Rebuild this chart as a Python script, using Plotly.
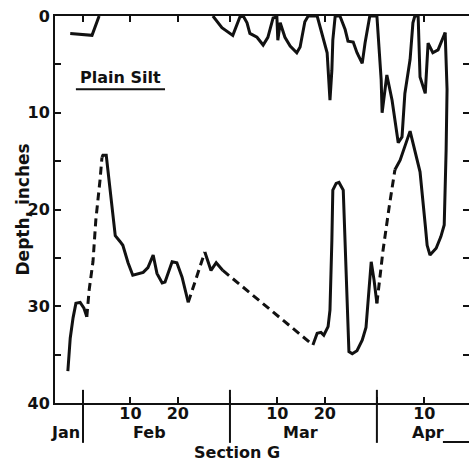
import plotly.graph_objects as go

# ---------------- data ----------------
# x values are day numbers on the chart's calendar scale (each month drawn 31 days wide,
# Jan 31 = 31, end of Feb = 62, end of Mar = 93); y values are depth in inches.

# Lower curve: depth of frost penetration
frost_day = [27.8, 28.3, 28.9, 29.5, 30.4, 31.2, 31.8, 32.3, 33.1, 33.7,
             34.6, 35.0, 35.2, 35.9, 36.7, 37.8, 38.8, 39.4, 40.5, 41.5,
             43.7, 44.7, 45.8, 46.6, 47.7, 48.3, 49.8, 50.8, 51.9, 53.2,
             54.2, 55.7, 56.7, 58.0, 59.1, 60.5, 79.5, 80.4, 81.2, 81.8,
             82.7, 83.1, 83.5, 83.7, 84.4, 85.0, 85.9, 86.3, 86.7, 87.1,
             87.8, 88.8, 89.9, 90.7, 91.8, 92.4, 93.0, 94.3, 95.6, 96.8,
             97.9, 100.0, 102.1, 103.2, 103.6, 104.2, 105.5, 106.5, 107.2, 107.6,
             107.8, 107.4]
frost_depth = [36.7, 33.3, 31.2, 29.7, 29.6, 30.2, 31.1, 28.3, 25.4, 21.1,
               16.9, 14.6, 14.4, 14.4, 18.0, 22.7, 23.3, 23.7, 25.5, 26.8,
               26.5, 26.0, 24.7, 26.6, 27.6, 27.5, 25.4, 25.5, 27.0, 29.6,
               28.1, 25.9, 24.4, 26.3, 25.5, 26.3, 34.0, 32.8, 32.7, 33.0,
               32.1, 30.4, 23.2, 18.0, 17.3, 17.2, 18.0, 23.2, 28.3, 34.7,
               34.9, 34.6, 33.5, 32.2, 25.4, 27.3, 29.7, 24.2, 19.7, 15.9,
               14.9, 11.9, 16.1, 21.6, 23.7, 24.7, 24.0, 22.8, 21.6, 13.9,
               7.6, 1.7]
# index breakpoints: odd-numbered spans between breakpoints are estimated (dashed)
frost_breaks = [0, 6, 11, 29, 32, 35, 36, 56, 59, 71]

# Upper curve: depth of thaw from the surface
thaw1_day = [28.3, 32.9, 34.4]
thaw1_depth = [1.8, 2.0, 0.0]
thaw2_day = [58.4, 60.3, 62.6, 64.1, 64.8, 65.6, 66.2, 67.7, 69.0, 70.0,
             71.1, 71.9, 72.1, 72.6, 73.6, 74.7, 76.1, 76.8, 77.8, 78.5,
             80.4, 81.4, 82.5, 83.1, 83.5, 83.7, 84.2, 85.2, 86.3, 86.9,
             88.0, 88.8, 89.9, 90.5, 91.5, 93.0, 93.2, 93.9, 94.1, 95.1,
             96.2, 97.5, 98.3, 98.9, 100.0, 100.6, 101.0, 101.7, 102.1, 103.2,
             103.8, 104.8, 105.9, 107.4]
thaw2_depth = [0, 1.2, 2.0, 0.1, 0, 0.7, 1.8, 2.2, 3.0, 2.2,
               0.2, 0.1, 2.5, 0.7, 2.2, 3.1, 3.8, 3.2, 0.6, 0,
               0, 1.8, 3.8, 8.7, 5.6, 2.5, 0, 0, 1.4, 2.6,
               2.7, 3.8, 4.9, 2.8, 0, 0, 1.4, 6.6, 10.0, 6.1,
               8.7, 13.1, 12.5, 8.0, 4.5, 0.7, 0, 0, 6.3, 8.0,
               2.8, 3.8, 3.5, 1.7]

# axis ticks and labels
x_tick_days = [31, 41, 51, 62, 72, 82, 93, 103]
x_tick_text = ["", "10", "20", "", "10", "20", "", "10"]
month_boundaries = [31, 62, 93]
month_names = ["Jan", "Feb", "Mar", "Apr"]
month_label_days = [27.2, 45.1, 76.8, 103.8]
y_tick_vals = [0, 5, 10, 15, 20, 25, 30, 35, 40]
y_tick_text = ["0", "", "10", "", "20", "", "30", "", "40"]
x_range = [25.09, 112.43]
y_range = [40, 0]

# ---------------- figure ----------------
FONT = "DejaVu Sans"
INK = "#111111"

fig = go.Figure()

for i in range(len(frost_breaks) - 1):
    a, b = frost_breaks[i], frost_breaks[i + 1]
    dashed = (i % 2 == 1)
    fig.add_trace(go.Scatter(
        x=frost_day[a:b + 1], y=frost_depth[a:b + 1], mode="lines",
        line=dict(color=INK, width=3, dash="8px,5px" if dashed else "solid"),
        showlegend=False, hoverinfo="skip"))

for xs, ys in [(thaw1_day, thaw1_depth), (thaw2_day, thaw2_depth)]:
    fig.add_trace(go.Scatter(
        x=xs, y=ys, mode="lines", line=dict(color=INK, width=3),
        showlegend=False, hoverinfo="skip"))

# dummy trace for right-hand tick axis
fig.add_trace(go.Scatter(x=[None], y=[None], yaxis="y2", showlegend=False,
                         hoverinfo="skip"))

tickfont = dict(family=FONT, size=16, color=INK, weight="bold")

fig.update_layout(
    width=469, height=467,
    margin=dict(l=55, r=0, t=16, b=64, autoexpand=False),
    paper_bgcolor="white", plot_bgcolor="white",
    xaxis=dict(range=x_range, tickmode="array", tickvals=x_tick_days,
               ticktext=x_tick_text, ticks="inside", ticklen=6, tickwidth=2,
               tickcolor=INK, showline=True, linecolor=INK, linewidth=2,
               mirror="ticks", showgrid=False, zeroline=False,
               tickfont=tickfont, automargin=False, ticklabelstandoff=-5,
               ticklabeloverflow="allow"),
    yaxis=dict(range=y_range, tickmode="array", tickvals=y_tick_vals,
               ticktext=y_tick_text, ticks="inside", ticklen=6, tickwidth=2,
               tickcolor=INK, showline=True, linecolor=INK, linewidth=2,
               showgrid=False, zeroline=False, tickfont=tickfont,
               automargin=False, ticklabeloverflow="allow"),
    yaxis2=dict(range=y_range, overlaying="y", side="right", anchor="x",
                tickmode="array", tickvals=y_tick_vals, ticks="inside",
                ticklen=6, tickwidth=2, tickcolor=INK, showticklabels=False,
                showline=False, showgrid=False, zeroline=False,
                automargin=False),
)

def label(text, x, y, size, xref="x", yref="paper", angle=0):
    return dict(text=text, xref=xref, yref=yref, x=x, y=y, textangle=angle,
                xanchor="center", yanchor="middle", showarrow=False,
                borderpad=0,
                font=dict(family=FONT, size=size, color=INK, weight="bold"))

annotations = [
    label("Depth, inches", -0.0797, 0.5, 17, xref="paper", angle=-90),
    label("Section G", 63.5, -0.129, 16),
    label("Plain Silt", 39.0, 0.842, 16),
]
for name, d in zip(month_names, month_label_days):
    annotations.append(label(name, d, -0.075, 16))
fig.update_layout(annotations=annotations)

shapes = []
for d in month_boundaries:
    shapes.append(dict(type="line", xref="x", yref="paper", x0=d, x1=d,
                       y0=-0.103, y1=0.034, line=dict(color=INK, width=2)))
shapes.append(dict(type="line", xref="x", yref="paper", x0=29.5, x1=48.3,
                   y0=0.811, y1=0.811, line=dict(color=INK, width=2)))
shapes.append(dict(type="line", xref="paper", yref="paper", x0=0.937, x1=1.0,
                   y0=-0.1008, y1=-0.1008, line=dict(color=INK, width=2)))
fig.update_layout(shapes=shapes)

# remove the page's default body margin and scrollbars so the figure fills the window
page_css = ("document.documentElement.style.margin='0';"
            "document.documentElement.style.overflow='hidden';"
            "document.body.style.margin='0';"
            "document.body.style.overflow='hidden';")
fig.write_html("out.html", post_script=page_css,
               config={"displayModeBar": False, "staticPlot": True})
